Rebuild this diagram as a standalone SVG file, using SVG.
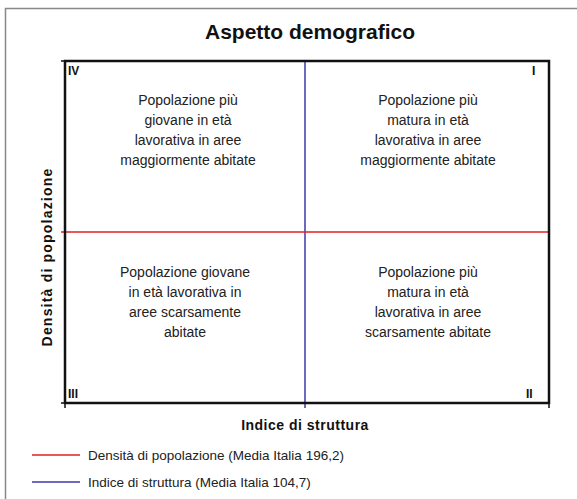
<svg xmlns="http://www.w3.org/2000/svg" width="577" height="499" viewBox="0 0 577 499">
<style>
.q{font-family:"Liberation Sans",Arial,sans-serif;font-size:14px;fill:#222;text-anchor:middle}
.r{font-family:"Liberation Sans",Arial,sans-serif;font-size:12px;font-weight:bold;fill:#111}
.ax{font-family:"Liberation Sans",Arial,sans-serif;font-size:14px;font-weight:bold;fill:#111;text-anchor:middle}
.lg{font-family:"Liberation Sans",Arial,sans-serif;font-size:13.5px;fill:#222}
</style>
<rect x="0" y="0" width="577" height="499" fill="#fff"/>
<path d="M5.5 499V8.5H577" fill="none" stroke="#888" stroke-width="1.5"/>
<text x="310" y="39" font-family="Liberation Sans,Arial,sans-serif" font-size="21" font-weight="bold" text-anchor="middle" fill="#111">Aspetto demografico</text>
<g id="connectors">
<line x1="305" y1="61" x2="305" y2="408" stroke="#3a3aa8" stroke-width="1.5"/>
<line x1="61" y1="232" x2="549" y2="232" stroke="#e02020" stroke-width="1.5"/>
</g>
<g id="plot">
<rect x="65" y="61" width="484" height="342" fill="none" stroke="#111" stroke-width="2.5"/>
<path d="M61 61H65M61 403H65M65 403V408M549 403V408" stroke="#111" stroke-width="1.5"/>
</g>
<g id="q4">
<text class="r" x="68" y="75">IV</text>
<text class="q" x="188" y="105">Popolazione più</text>
<text class="q" x="188" y="125">giovane in età</text>
<text class="q" x="188" y="145">lavorativa in aree</text>
<text class="q" x="188" y="165">maggiormente abitate</text>
</g>
<g id="q1">
<text class="r" x="532" y="75">I</text>
<text class="q" x="428" y="105">Popolazione più</text>
<text class="q" x="428" y="125">matura in età</text>
<text class="q" x="428" y="145">lavorativa in aree</text>
<text class="q" x="428" y="165">maggiormente abitate</text>
</g>
<g id="q3">
<text class="r" x="68" y="398">III</text>
<text class="q" x="185" y="277">Popolazione giovane</text>
<text class="q" x="185" y="297">in età lavorativa in</text>
<text class="q" x="185" y="317">aree scarsamente</text>
<text class="q" x="185" y="337">abitate</text>
</g>
<g id="q2">
<text class="r" x="526" y="398">II</text>
<text class="q" x="428" y="277">Popolazione più</text>
<text class="q" x="428" y="297">matura in età</text>
<text class="q" x="428" y="317">lavorativa in aree</text>
<text class="q" x="428" y="337">scarsamente abitate</text>
</g>
<text class="ax" x="305" y="430" letter-spacing="0.5">Indice di struttura</text>
<text class="ax" transform="translate(52 257) rotate(-90)" letter-spacing="1.2">Densità di popolazione</text>
<g id="legend">
<line x1="32" y1="455" x2="80" y2="455" stroke="#e02020" stroke-width="1.5"/>
<text class="lg" x="88" y="460">Densità di popolazione (Media Italia 196,2)</text>
<line x1="32" y1="482" x2="80" y2="482" stroke="#3a3aa8" stroke-width="1.5"/>
<text class="lg" x="88" y="487">Indice di struttura (Media Italia 104,7)</text>
</g>
</svg>
